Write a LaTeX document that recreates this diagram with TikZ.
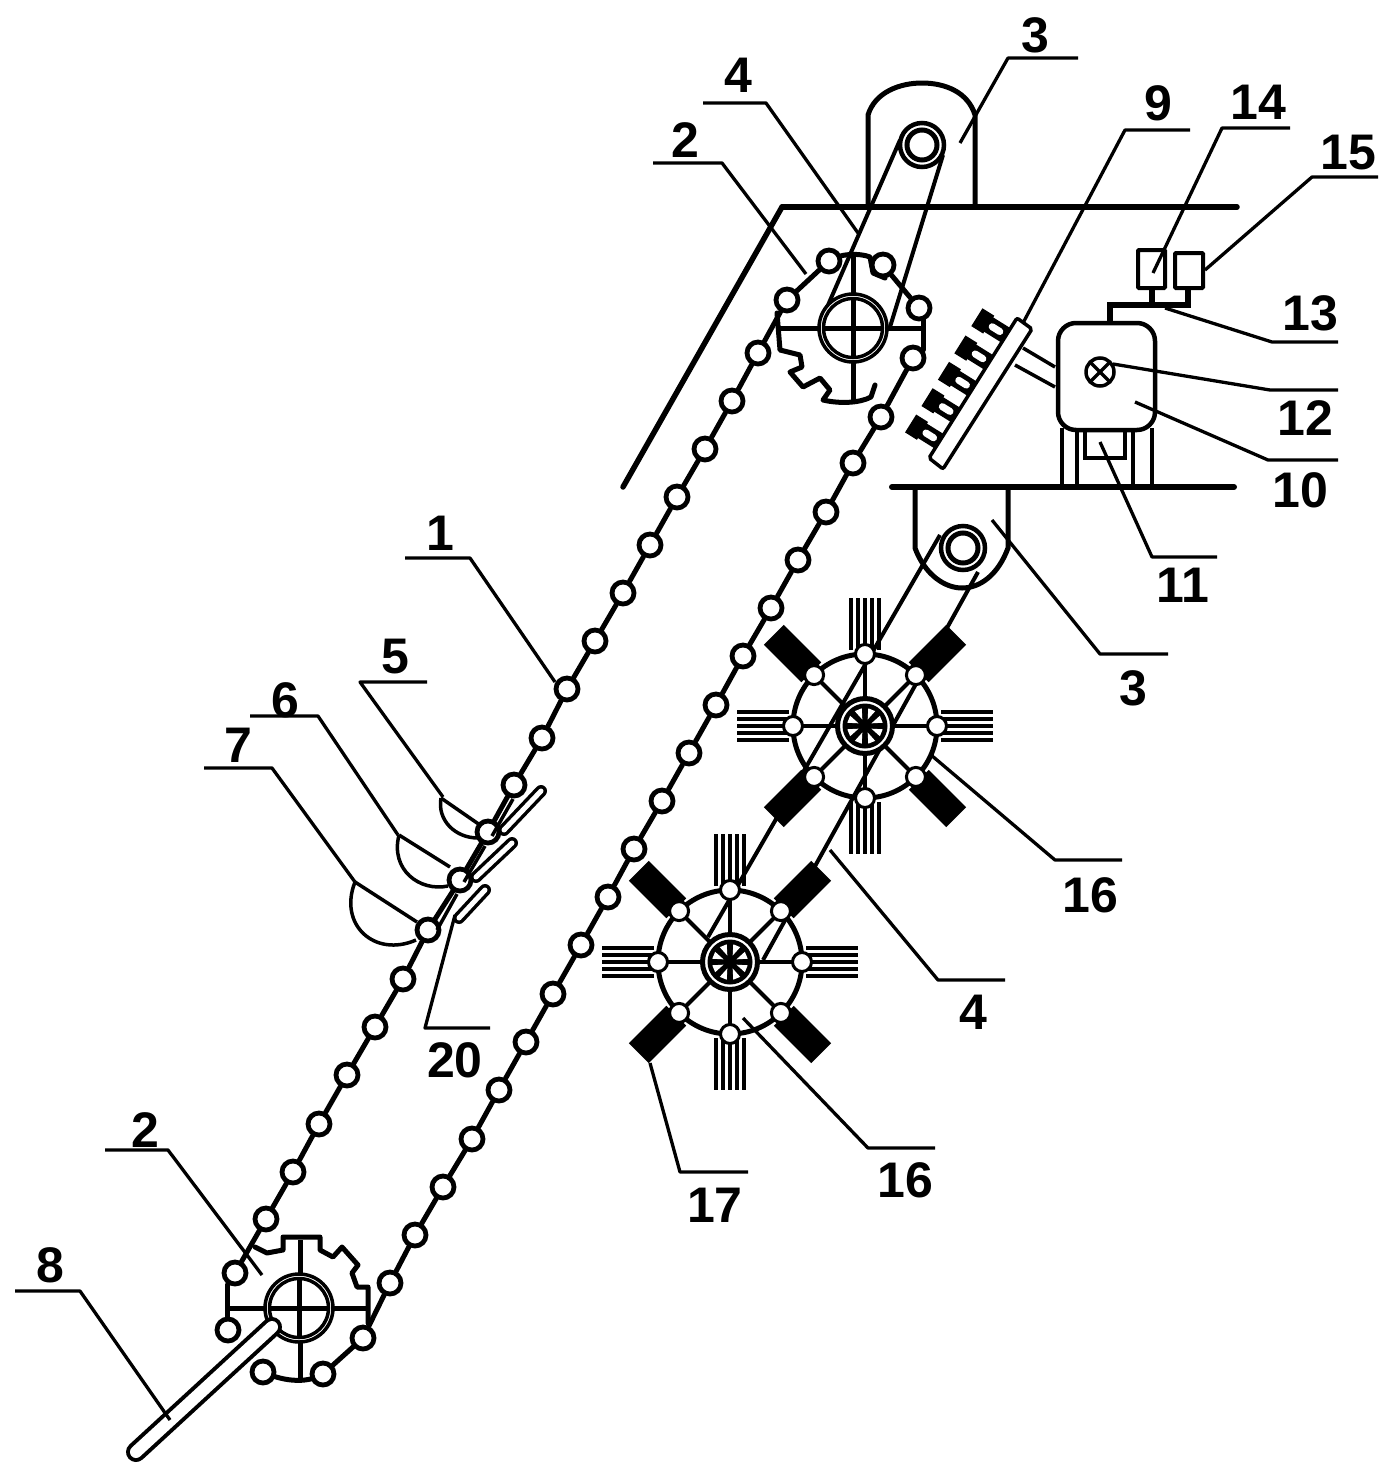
\documentclass[tikz,border=0pt]{standalone}
\usepackage{fontspec}
\setmainfont{Liberation Sans}
\usetikzlibrary{calc}
\tikzset{
 lab/.style={font=\fontsize{50}{50}\selectfont\bfseries,inner sep=0pt,anchor=center},
 leaderline/.style={line width=3.3pt,line join=round},
 roller/.style={circle,draw=black,fill=white,line width=4.8pt,minimum size=22pt,inner sep=0pt},
 wroller/.style={circle,draw=black,fill=white,line width=3pt,minimum size=19pt,inner sep=0pt},
 link/.style={line width=5pt,line cap=round},
 gear/.style={line width=5pt,line join=round,line cap=round},
 plate/.style={line width=5.5pt,line cap=round},
 belt/.style={line width=4pt},
 thin3/.style={line width=3.5pt,line join=round},
}
\newcommand\lead[6]{\node[lab] (l#1) at (#3) {#2}; \draw[leaderline] (#4) -- (#5) -- (#6);}
\newcommand\hubwheel[2]{%
 \begin{scope}[shift={(#1,#2)}]
  \draw[line width=5pt] (0,0) circle (72pt);
  \foreach \a in {0,45,...,315} \draw[line width=4pt] (\a:28pt) -- (\a:72pt);
  \foreach \a in {45,135,225,315} \draw[line width=28pt] (\a:76pt) -- (\a:129pt);
  \foreach \a in {0,90,180,270}{
   \begin{scope}[rotate=\a]
    \foreach \o in {-14,-7,0,7,14} \draw[line width=4pt] (76pt,\o pt) -- (128pt,\o pt);
   \end{scope}}
  \draw[line width=5pt,fill=white] (0,0) circle (27.5pt);
  \fill (0,0) circle (22.5pt);
  \foreach \a in {22.5,67.5,...,337.5} \fill[white] (\a-12:18pt) -- (\a:7pt) -- (\a+12:18pt) -- cycle;
  \foreach \a in {0,45,...,315} \node[wroller] at (\a:72pt) {};
 \end{scope}}
\newcommand\sprockethub[3]{%
 \draw[line width=3.5pt,fill=white] (#1,#2) circle (34pt);
 \draw[line width=3.5pt,fill=white] (#1,#2) circle (29.5pt);
 \draw[line width=5pt] ($(#1,#2)+(-29pt,0)$) -- ($(#1,#2)+(29pt,0)$);
 \draw[line width=5pt] ($(#1,#2)+(0,-29pt)$) -- ($(#1,#2)+(0,29pt)$);}
\newcommand\pulleyhub[2]{%
 \draw[line width=4.5pt,fill=white] (#1,#2) circle (22pt);
 \draw[line width=5pt] (#1,#2) circle (15pt);}
\begin{document}
\begin{tikzpicture}[x=1pt,y=-1pt]
\useasboundingbox (0,0) rectangle (1390,1473);
\fill[white] (0,0) rectangle (1390,1473);

% frame
\draw[plate] (782,207) -- (1237,207);
\draw[plate] (782,207) -- (623,487);
\draw[line width=5pt] (975,207) -- (975,115) .. controls (968,92) and (945,83) .. (922,83) .. controls (900,83) and (875,92) .. (868,115) -- (868,207);
\draw[line width=6pt,line cap=round] (892,487) -- (1234,487);
\draw[line width=5pt] (915,487) -- (915,548) .. controls (925,575) and (945,588) .. (962,588) .. controls (980,588) and (998,575) .. (1008,548) -- (1008,487);

% belts
\draw[belt] (900,140) -- (825,312);
\draw[belt] (943,155) -- (890,327);
\draw[belt] (940,535) -- (708,937);
\draw[belt] (978,572) -- (763,960);

% upper sprocket
\draw[line width=5pt] (780,328) -- (923,328);
\draw[line width=5pt] (853,255) -- (853,402);
\draw[gear] (777,313) -- (780,350) -- (800,355) -- (802,367) -- (790,372) -- (803,387) -- (820,378) -- (830,390) -- (823,400) .. controls (840,404) and (860,403) .. (871,397) -- (875,385);
\draw[gear] (829,261) .. controls (840,253) and (860,253) .. (870,257) -- (873,273) -- (885,278);
\draw[gear] (923,318) -- (923,350);
% lower sprocket
\draw[line width=5pt] (227,1308) -- (368,1308);
\draw[line width=5pt] (300,1240) -- (300,1382);
\draw[gear] (255,1247) -- (267,1253) -- (283,1250) -- (283,1237) -- (320,1237) -- (320,1250) -- (333,1257) -- (342,1247) -- (358,1265) -- (352,1273) -- (357,1287) -- (368,1287) -- (368,1323);
\draw[gear] (263,1372) .. controls (280,1380) and (305,1385) .. (323,1374);
\draw[gear] (227,1285) -- (227,1320);

% wheels
\hubwheel{865}{726}
\hubwheel{730}{962}

% chain
\foreach \i/\x/\y in {1/829/261,2/787/300,3/758/353,4/732/401,5/705/449,6/677/497,7/650/545,8/623/593,9/595/641,10/567/689,11/542/738,12/514/785,13/488/832,14/460/880,15/428/930,16/403/979,17/375/1027,18/347/1075,19/319/1124,20/293/1172,21/266/1219,22/235/1273}
  \node[roller] (a\i) at (\x,\y) {};
\foreach \i/\x/\y in {1/881/417,2/853/463,3/826/512,4/798/560,5/771/608,6/743/656,7/716/705,8/689/753,9/662/801,10/634/849,11/608/897,12/581/945,13/553/994,14/526/1042,15/499/1090,16/472/1139,17/443/1187,18/415/1235,19/390/1283,20/363/1338}
  \node[roller] (b\i) at (\x,\y) {};
\node[roller] (u1) at (883,265) {};
\node[roller] (u2) at (919,308) {};
\node[roller] (u3) at (913,358) {};
\node[roller] (d1) at (228,1330) {};
\node[roller] (d2) at (263,1372) {};
\node[roller] (d3) at (323,1374) {};
\foreach \i [evaluate=\i as \j using int(\i+1)] in {1,...,21} \draw[link] (a\i) -- (a\j);
\foreach \i [evaluate=\i as \j using int(\i+1)] in {1,...,19} \draw[link] (b\i) -- (b\j);
\draw[link] (u1) -- (u2);
\draw[link] (u3) -- (b1);
\draw[link] (d3) -- (b20);
% doubled chain side along the knives
\draw[line width=3.5pt] (513,799) -- (492,836);
\draw[line width=3.5pt] (485,846) -- (464,882);
\draw[line width=3.5pt] (457,894) -- (437,930);

% hubs
\sprockethub{853}{328}{}
\sprockethub{299}{1308}{}
\pulleyhub{922}{145}
\pulleyhub{963}{548}

% rod 8
\coordinate (r8a) at (136,1452);
\coordinate (r8b) at (272,1327);
\draw[line width=20pt,line cap=round] (r8a) -- (r8b);
\draw[white,line width=12pt,line cap=round] (r8a) -- (r8b);

% knives 20
\foreach \xa/\ya/\xb/\yb in {541/791/504/830,512/843/476/877,485/890/459/918}{
  \draw[line width=12pt,line cap=round] (\xa,\ya) -- (\xb,\yb);
  \draw[white,line width=5pt,line cap=round] (\xa,\ya) -- (\xb,\yb);}

% scoops
\draw[line width=3.5pt,line join=round] (441,798) -- (480,825);
\draw[line width=3.5pt] (441,798) .. controls (437,820) and (455,838) .. (478,838);
\draw[line width=3.5pt] (399,835) -- (450,867);
\draw[line width=3.5pt] (399,835) .. controls (390,870) and (420,892) .. (448,886);
\draw[line width=3.5pt] (355,882) -- (417,922);
\draw[line width=3.5pt] (355,882) .. controls (338,925) and (375,958) .. (416,940);

% brush unit
\draw[thin3] (1023,348) -- (1055,367);
\draw[thin3] (1015,365) -- (1055,387);
\foreach \a in {20,52,83,114,145}{
  \pgfmathsetmacro{\hx}{1024-0.53*\a-0.85*36}
  \pgfmathsetmacro{\hy}{323+0.85*\a-0.53*36}
  \pgfmathsetmacro{\sx}{1024-0.53*\a-0.85*6}
  \pgfmathsetmacro{\sy}{323+0.85*\a-0.53*6}
  \pgfmathsetmacro{\wx}{1024-0.53*\a-0.85*25}
  \pgfmathsetmacro{\wy}{323+0.85*\a-0.53*25}
  \pgfmathsetmacro{\vx}{1024-0.53*\a-0.85*16}
  \pgfmathsetmacro{\vy}{323+0.85*\a-0.53*16}
  \draw[line width=17pt] (\hx,\hy) -- (\sx,\sy);
  \draw[white,line width=7pt,line cap=round] (\wx,\wy) -- (\vx,\vy);
  \draw[line width=14pt] ({\hx+0.53*10.5},{\hy-0.85*10.5}) -- ({\hx-0.53*10.5},{\hy+0.85*10.5});
}
\draw[line width=3.5pt,fill=white,rounded corners=2pt] (1017,318) -- (1032,329) -- (943,469) -- (929,458) -- cycle;

% box 10
\draw[line width=4.5pt,fill=white,rounded corners=18pt] (1058,323) rectangle (1155,430);
\draw[line width=3.5pt] (1100,372) circle (14pt);
\draw[line width=3.5pt] (1091,363) -- (1109,381);
\draw[line width=3.5pt] (1091,381) -- (1109,363);
% pipes, sensors
\draw[line width=5.5pt,line join=miter] (1110,323) -- (1110,305) -- (1188,305) -- (1188,288);
\draw[line width=5.5pt] (1152,305) -- (1152,288);
\draw[line width=4pt,rounded corners=1pt] (1138,250) rectangle (1165,288);
\draw[line width=4pt,rounded corners=1pt] (1175,253) rectangle (1203,288);
% legs, motor 11
\foreach \x in {1062,1077,1133,1152} \draw[line width=4pt] (\x,428) -- (\x,487);
\draw[line width=3.5pt] (1085,430) -- (1085,458) -- (1125,458) -- (1125,430);

% labels and leaders
\lead{t3}{3}{1035,35}{1078,58}{1008,58}{960,143}
\lead{t4}{4}{738,75}{703,103}{766,103}{858,233}
\lead{t2}{2}{685,140}{653,163}{722,163}{806,274}
\lead{n9}{9}{1158,103}{1190,130}{1125,130}{1023,323}
\lead{n14}{14}{1258,102}{1290,128}{1222,128}{1153,273}
\lead{n15}{15}{1348,153}{1378,177}{1312,177}{1205,270}
\lead{n13}{13}{1310,313}{1338,342}{1272,342}{1165,308}
\lead{n12}{12}{1305,418}{1338,390}{1270,390}{1113,364}
\lead{n10}{10}{1300,490}{1338,460}{1268,460}{1135,402}
\lead{n11}{11}{1183,585}{1217,557}{1152,557}{1100,442}
\lead{b3}{3}{1133,688}{1168,654}{1100,654}{992,520}
\lead{n1}{1}{440,533}{405,558}{470,558}{555,682}
\lead{n5}{5}{395,657}{427,682}{360,682}{443,797}
\lead{n6}{6}{285,700}{250,716}{318,716}{398,835}
\lead{n7}{7}{238,745}{204,768}{272,768}{355,882}
\lead{n20}{20}{455,1060}{490,1028}{425,1028}{455,915}
\lead{u16}{16}{1090,895}{1122,860}{1055,860}{931,755}
\lead{b4}{4}{973,1012}{1005,980}{938,980}{830,850}
\lead{l16}{16}{905,1180}{935,1148}{868,1148}{743,1018}
\lead{n17}{17}{715,1205}{748,1172}{680,1172}{650,1063}
\lead{b2}{2}{145,1130}{105,1150}{168,1150}{262,1275}
\lead{n8}{8}{50,1265}{15,1291}{80,1291}{170,1420}
\end{tikzpicture}
\end{document}
